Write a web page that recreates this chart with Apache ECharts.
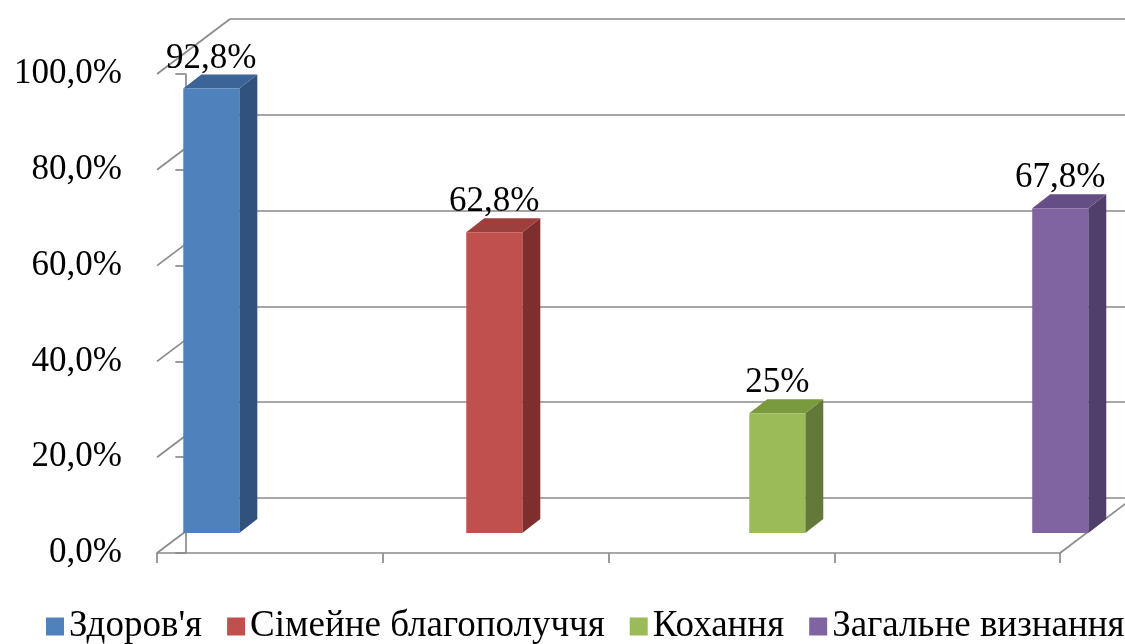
<!DOCTYPE html>
<html>
<head>
<meta charset="utf-8">
<script src="https://cdn.jsdelivr.net/npm/echarts@6/dist/echarts.min.js"></script>
<style>html,body{margin:0;padding:0;background:#fff}#c{width:1125px;height:644px}</style>
</head>
<body>
<div id="c"></div>
<script>
// ---- data ----
const categories = ["Здоров'я", "Сімейне благополуччя", "Кохання", "Загальне визнання"];
const values = [92.8, 62.8, 25, 67.8];
const valueLabels = ["92,8%", "62,8%", "25%", "67,8%"];
const yTicks = [0, 20, 40, 60, 80, 100];
const yTickLabels = ["0,0%", "20,0%", "40,0%", "60,0%", "80,0%", "100,0%"];

// ---- styles ----
const frontColors = ['#4F81BD', '#C0504D', '#9BBB59', '#8064A2'];
const topColors   = ['#3C6496', '#9C3F3D', '#7A9A3E', '#654E85'];
const sideColors  = ['#30527D', '#7E2F2D', '#62793A', '#503F6A'];
const GRID_COLOR = '#8a8a8a';
const FONT = "'Liberation Serif', 'Times New Roman', serif";
const DEPTH = [73, -55];        // full floor depth (px)
const BAR_FRONT = [26, -20];    // bar front face depth offset (px)
const BAR_BACK = [44, -34];     // bar back face depth offset (px)
const BAR_W = 0.198;            // bar width in x units

const chart = echarts.init(document.getElementById('c'), null, {renderer: 'canvas'});

function barRender(params, api) {
  const xi = api.value(0), v = api.value(1);
  const s = params.seriesIndex - 1;
  const pA = api.coord([xi - BAR_W / 2, 0]);
  const pB = api.coord([xi + BAR_W / 2, v]);
  const x0 = pA[0], x1 = pB[0], yb = pA[1], yt = pB[1];
  const fx = BAR_FRONT[0], fy = BAR_FRONT[1], bx = BAR_BACK[0], by = BAR_BACK[1];
  return {
    type: 'group',
    children: [
      {type: 'polygon', shape: {points: [[x1 + fx, yt + fy], [x1 + bx, yt + by], [x1 + bx, yb + by], [x1 + fx, yb + fy]]}, style: {fill: sideColors[s]}},
      {type: 'polygon', shape: {points: [[x0 + fx, yt + fy], [x1 + fx, yt + fy], [x1 + bx, yt + by], [x0 + bx, yt + by]]}, style: {fill: topColors[s]}},
      {type: 'rect', shape: {x: x0 + fx, y: yt + fy, width: x1 - x0, height: yb - yt}, style: {fill: frontColors[s]}},
      {type: 'text', x: (x0 + x1) / 2 + fx, y: yt + by - 16, style: {text: valueLabels[xi], font: '35px ' + FONT, fill: '#000', align: 'center', verticalAlign: 'middle'}}
    ]
  };
}

function frameRender(params, api) {
  const v = api.value(0);
  const cs = params.coordSys;
  const p = api.coord([0, v]);
  const lines = [
    {type: 'line', shape: {x1: cs.x, y1: p[1], x2: cs.x + DEPTH[0], y2: p[1] + DEPTH[1]}, style: {stroke: GRID_COLOR, lineWidth: 1.7}}
  ];
  if (v === 0) {
    lines.push({type: 'line', shape: {x1: cs.x + cs.width, y1: p[1], x2: cs.x + cs.width + DEPTH[0], y2: p[1] + DEPTH[1]}, style: {stroke: GRID_COLOR, lineWidth: 1.7}});
  }
  return {type: 'group', children: lines};
}

const series = [{
  type: 'custom', name: 'frame', xAxisIndex: 1, yAxisIndex: 0, silent: true, z: 1,
  renderItem: frameRender, data: yTicks.map(v => [v])
}];
categories.forEach((c, i) => {
  series.push({
    type: 'custom', name: c, xAxisIndex: 1, yAxisIndex: 0, z: 3,
    itemStyle: {color: frontColors[i]},
    renderItem: barRender, data: [[i, values[i]]]
  });
});

chart.setOption({
  animation: false,
  backgroundColor: '#fff',
  grid: [
    {left: 157, right: 65, top: 74, bottom: 91},
    {left: 157 + DEPTH[0], right: 65 - DEPTH[0], top: 74 + DEPTH[1], bottom: 91 - DEPTH[1]}
  ],
  xAxis: [
    {gridIndex: 0, type: 'category', data: categories, boundaryGap: true,
     axisLine: {show: true, lineStyle: {color: GRID_COLOR, width: 1.7}},
     axisTick: {show: true, length: 10, lineStyle: {color: GRID_COLOR, width: 1.7}},
     axisLabel: {show: false}},
    {gridIndex: 0, type: 'value', min: -0.1, max: 3.091, show: false},
    {gridIndex: 1, type: 'category', data: categories, show: false}
  ],
  yAxis: [
    {gridIndex: 0, type: 'value', min: 0, max: 100, interval: 20,
     axisLine: {show: true, lineStyle: {color: GRID_COLOR, width: 1.7}},
     axisTick: {show: true, length: 10, lineStyle: {color: GRID_COLOR, width: 1.7}},
     splitLine: {show: false},
     axisLabel: {margin: 35, color: '#000', fontSize: 35, fontFamily: FONT,
                 formatter: v => yTickLabels[yTicks.indexOf(v)]}},
    {gridIndex: 1, type: 'value', min: 0, max: 100, interval: 20,
     axisLine: {show: false}, axisTick: {show: false}, axisLabel: {show: false},
     splitLine: {show: true, lineStyle: {color: GRID_COLOR, width: 1.7}}}
  ],
  legend: {
    data: categories, left: 46, top: 608, width: 1400, padding: 0,
    icon: 'rect', itemWidth: 18, itemHeight: 18, itemGap: 25,
    textStyle: {fontSize: 37, fontFamily: FONT, color: '#000'}
  },
  series: series
});
</script>
</body>
</html>
